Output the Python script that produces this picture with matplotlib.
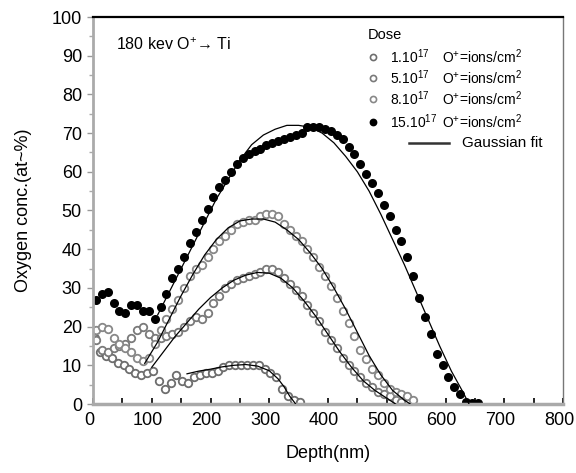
import numpy as np
import matplotlib
matplotlib.use("Agg")
import matplotlib.pyplot as plt
import matplotlib.transforms as mtrans
from matplotlib.ticker import MultipleLocator

plt.rcParams['font.family'] = ['Liberation Sans', 'DejaVu Sans']
plt.rcParams['mathtext.fontset'] = 'custom'
plt.rcParams['mathtext.rm'] = 'Liberation Sans'
plt.rcParams['mathtext.it'] = 'Liberation Sans'

# --- measured profiles (depth in nm, oxygen conc. in at.%) ---
depth_1 = [3, 12, 22, 32, 42, 52, 62, 72, 82, 92, 102, 112, 122, 132, 142, 152,
           162, 172, 182, 192, 202, 212, 222, 232, 242, 252, 262, 272, 282, 292,
           302, 312, 322, 332, 342, 352]
conc_1 = [17, 13.5, 12.5, 12, 10.5, 10, 9, 8, 7.5, 8, 8.5, 6, 4, 5.5, 7.5, 6,
          5.5, 7, 7.5, 8, 8, 8.5, 9.5, 10, 10, 10, 10, 10, 10, 9,
          8, 7, 4, 2, 1, 0.5]

depth_5 = [5, 15, 25, 35, 45, 55, 65, 75, 85, 95, 105, 115, 125, 135, 145, 155,
           165, 175, 185, 195, 205, 215, 225, 235, 245, 255, 265, 275, 285, 295,
           305, 315, 325, 335, 345, 355, 365, 375, 385, 395, 405, 415, 425, 435,
           445, 455, 465, 475, 485, 495, 505, 515, 525]
conc_5 = [16.5, 14, 13.5, 14.5, 15, 15.5, 17, 19, 20, 18, 17, 17, 17.5, 18, 18.5, 20,
          21.5, 22.5, 22, 23.5, 26, 28, 30, 31, 32, 32.5, 33, 33.5, 34, 35,
          35, 34, 32.5, 31, 29.5, 28, 25.5, 23.5, 21.5, 18.5, 16.5, 14.5, 12, 10,
          8.5, 7, 5.5, 4.5, 3, 2.5, 2, 1, 0.5]

depth_8 = [5, 15, 25, 35, 45, 55, 65, 75, 85, 95, 105, 115, 125, 135, 145, 155,
           165, 175, 185, 195, 205, 215, 225, 235, 245, 255, 265, 275, 285, 295,
           305, 315, 325, 335, 345, 355, 365, 375, 385, 395, 405, 415, 425, 435,
           445, 455, 465, 475, 485, 495, 505, 515, 525, 535, 545]
conc_8 = [19, 20, 19.5, 17, 15.5, 14.5, 13.5, 12, 11, 12, 15.5, 19, 22, 24.5, 27, 30,
          33, 35, 36, 38, 40, 42, 43.5, 45, 46.5, 47, 47.5, 47.5, 48.5, 49,
          49, 48.5, 46.5, 45, 43.5, 42, 40, 38, 35.5, 33, 30.5, 27.5, 24, 21,
          17.5, 14, 11.5, 9, 7.5, 5.5, 4, 3, 2.5, 2, 1]

depth_15 = [5, 15, 25, 35, 45, 55, 65, 75, 85, 95, 105, 115, 125, 135, 145, 155,
            165, 175, 185, 195, 205, 215, 225, 235, 245, 255, 265, 275, 285, 295,
            305, 315, 325, 335, 345, 355, 365, 375, 385, 395, 405, 415, 425, 435,
            445, 455, 465, 475, 485, 495, 505, 515, 525, 535, 545, 555, 565, 575,
            585, 595, 605, 615, 625, 635, 645, 655]
conc_15 = [27, 28.5, 29, 26, 24, 23.5, 25.5, 25.5, 24, 24, 22, 25, 28.5, 32.5, 35, 38,
           41.5, 44.5, 47.5, 50.5, 53.5, 56, 58, 60, 62, 63.5, 64.5, 65.5, 66, 67,
           67.5, 68, 68.5, 69, 69.5, 70, 71.5, 71.5, 71.5, 71, 70.5, 69.5, 68.5, 66.5,
           64.5, 62, 59.5, 57, 54.5, 51.5, 48.5, 45, 42, 38, 33, 27.5, 22.5, 18,
           13, 10, 7, 4.5, 2.5, 0.5, 0.3, 0.3]

# --- gaussian fits ---
fit_depth_1 = [160, 180, 200, 220, 240, 260, 280, 300, 315, 325, 335, 345]
fit_conc_1 = [7.8, 8.5, 9, 9.6, 10, 10.2, 9.8, 8.6, 6.5, 4.5, 2, 0]

fit_depth_5 = [100, 120, 140, 160, 180, 200, 220, 240, 260, 280, 300, 320, 340,
               360, 380, 400, 420, 440, 460, 480, 500, 515]
fit_conc_5 = [9.5, 13.5, 17.5, 21, 24.5, 27.5, 30, 32, 33.3, 34, 33.8, 32.5, 30,
              26.5, 22.5, 18, 13.5, 9.5, 6, 3.5, 1.5, 0]

fit_depth_8 = [88, 110, 130, 150, 170, 190, 210, 230, 250, 270, 290, 310, 330,
               350, 370, 390, 410, 430, 450, 470, 490, 510, 530, 540]
fit_conc_8 = [10.5, 16, 22, 28, 33.5, 38.5, 42.5, 45.5, 47.3, 47.8, 47.8, 47, 45,
              42.5, 39, 35, 30, 24.5, 18.5, 12.5, 7.5, 3.5, 1, 0]

fit_depth_15 = [110, 130, 150, 170, 190, 210, 230, 250, 270, 290, 310, 330, 350,
                370, 390, 410, 430, 450, 470, 490, 510, 530, 550, 570, 590, 610,
                630, 640]
fit_conc_15 = [23, 29, 35, 41, 47, 53, 58, 63, 67, 69.5, 71, 72, 72,
               71.5, 70, 67.5, 64, 60, 55, 49, 42.5, 36, 29, 22, 15, 8.5,
               3, 0]

dose_labels = ['1.10$^{17}$', '5.10$^{17}$', '8.10$^{17}$', '15.10$^{17}$']

fig = plt.figure(figsize=(5.76, 4.73), dpi=100)
ax = fig.add_axes([93 / 576, 1 - 404 / 473, 470 / 576, 387 / 473])

series = [
    (depth_1, conc_1, dict(mfc='white', mec='#6e6e6e')),
    (depth_5, conc_5, dict(mfc='white', mec='#7a7a7a')),
    (depth_8, conc_8, dict(mfc='white', mec='#888888')),
    (depth_15, conc_15, dict(mfc='black', mec='black')),
]
for i, (d, c, st) in enumerate(series):
    ms = 5.4 if i < 3 else 5.2
    ax.plot(d, c, 'o', ms=ms, mew=1.3, zorder=2, **st)

for d, c in [(fit_depth_1, fit_conc_1), (fit_depth_5, fit_conc_5),
             (fit_depth_8, fit_conc_8), (fit_depth_15, fit_conc_15)]:
    ax.plot(d, c, '-', color='black', lw=0.9, zorder=3)

ax.set_xlim(0, 800)
ax.set_ylim(0, 100)
ax.xaxis.set_major_locator(MultipleLocator(100))
ax.xaxis.set_minor_locator(MultipleLocator(50))
ax.yaxis.set_major_locator(MultipleLocator(10))
ax.yaxis.set_minor_locator(MultipleLocator(5))
ax.tick_params(axis='x', which='both', direction='in', length=4, width=1.2,
               color='black', labelsize=13, pad=6)
ax.tick_params(axis='y', which='major', direction='out', length=4, width=1,
               color='#999999', labelsize=13, pad=4)
ax.tick_params(axis='y', which='minor', direction='out', length=3, width=1,
               color='#aaaaaa')

# x tick labels sit a few pixels left of their ticks in the original
shift = mtrans.ScaledTranslation(-4 / 100, 0, fig.dpi_scale_trans)
for lab in ax.get_xticklabels():
    lab.set_transform(lab.get_transform() + shift)

ax.spines['top'].set_color('black')
ax.spines['top'].set_linewidth(1.6)
ax.spines['right'].set_color('#777777')
ax.spines['right'].set_linewidth(1.0)
ax.spines['left'].set_color('#aaaaaa')
ax.spines['left'].set_linewidth(2.0)
ax.spines['bottom'].set_color('#aaaaaa')
ax.spines['bottom'].set_linewidth(2.5)

ax.set_xlabel('Depth(nm)', fontsize=13)
ax.set_ylabel('Oxygen conc.(at~%)', fontsize=13)
ax.xaxis.set_label_coords(0.5, -0.105)
ax.yaxis.set_label_coords(-0.13, 0.5)

ax.text(0.049, 0.928, '180 kev O$^{+}$\u2192 Ti', transform=ax.transAxes,
        fontsize=11.5, va='center', ha='left')

# hand-built legend
ax.text(0.585, 0.953, 'Dose', transform=ax.transAxes, fontsize=10.5,
        va='center', ha='left')
rows = [0.897, 0.842, 0.788, 0.729]
for (d, c, st), lab, yy in zip(series, dose_labels, rows):
    ax.plot([0.596], [yy], 'o', ms=4.4, mew=1.2, transform=ax.transAxes,
            clip_on=False, **st)
    ax.text(0.632, yy, lab, transform=ax.transAxes, fontsize=10,
            va='center', ha='left')
    ax.text(0.743, yy, 'O$^{+}$=ions/cm$^{2}$', transform=ax.transAxes,
            fontsize=10, va='center', ha='left')
ax.plot([0.673, 0.758], [0.674, 0.674], '-', color='#333333', lw=1.8,
        transform=ax.transAxes)
ax.text(0.785, 0.674, 'Gaussian fit', transform=ax.transAxes, fontsize=11,
        va='center', ha='left')

fig.savefig('out.png', dpi=100)
